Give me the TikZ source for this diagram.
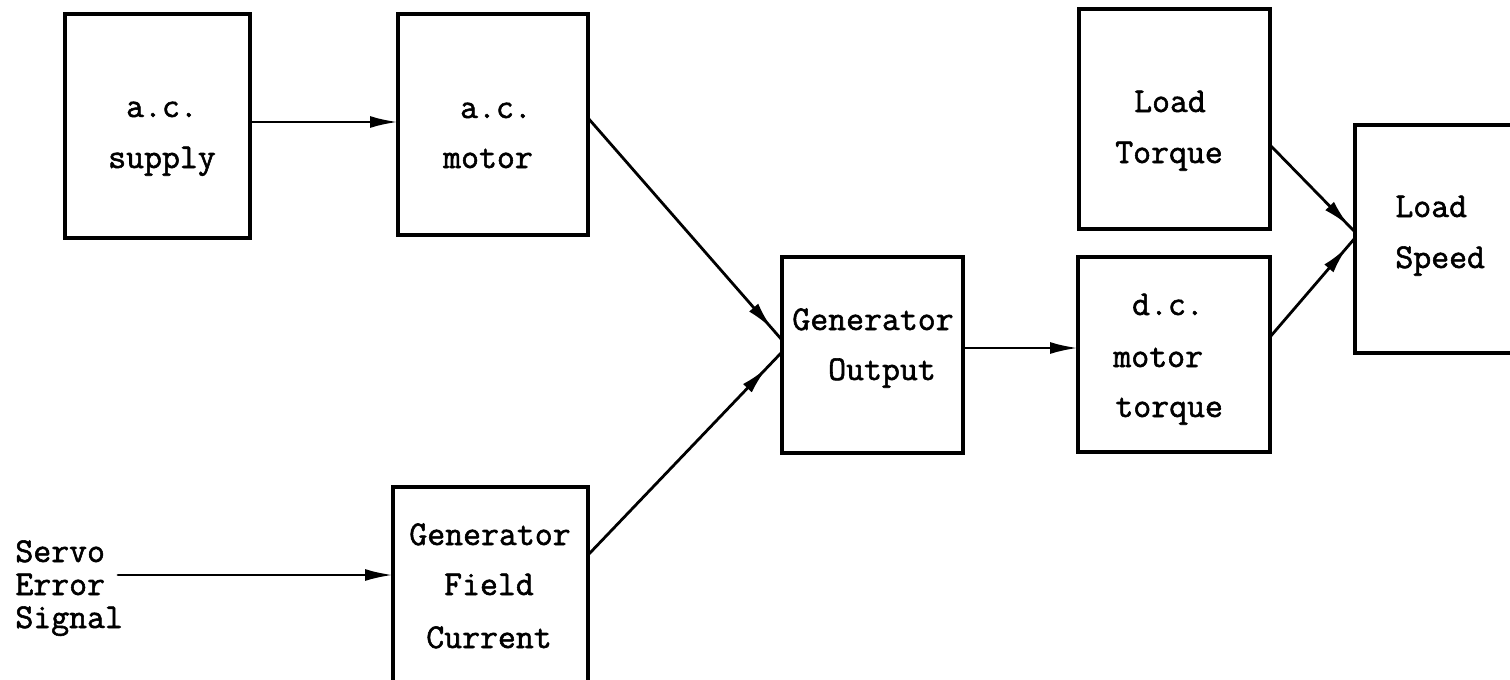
\documentclass[tikz,border=0pt]{standalone}
\usepackage{fontspec}
\usetikzlibrary{arrows.meta,decorations.markings}
% typewriter face, slightly heavier than the stock mono
\newfontfamily\typewr{lmmono12-regular.otf}[FakeBold=1.6]
\tikzset{
  blk/.style={draw, line width=1.6pt, inner sep=0pt, outer sep=0pt},
  lbl/.style={inner sep=0pt, font=\fontsize{17.4pt}{20pt}\typewr, anchor=base},
  lblw/.style={lbl, anchor=base west},
  conn/.style={line width=1.4pt, line cap=round},
  tip/.style={-{Latex[length=14pt,width=6pt]}},
  midtip/.style={postaction={decorate},
    decoration={markings, mark=at position #1 with {\arrow{Latex[length=14pt,width=6pt]}}}},
}
\begin{document}
\begin{tikzpicture}[x=0.5pt,y=-0.5pt]
\useasboundingbox (0,0) rectangle (1510,680);
\clip (0,0) rectangle (1510,680);

% blocks
\node[blk, minimum width=92.5pt, minimum height=112pt]   (sup)  at (157.5,126)  {};
\node[blk, minimum width=95pt,   minimum height=110.5pt] (acm)  at (493,124.5)  {};
\node[blk, minimum width=97.5pt, minimum height=106.5pt] (gfc)  at (490.5,593.5) {};
\node[blk, minimum width=90.5pt, minimum height=98pt]    (gout) at (872.5,355)  {};
\node[blk, minimum width=95.5pt, minimum height=110pt]   (ltq)  at (1174.5,119) {};
\node[blk, minimum width=96pt,   minimum height=97.5pt]  (dcm)  at (1174,354.5) {};
\node[blk, minimum width=92.5pt, minimum height=114pt]   (lsp)  at (1447.5,239) {};

% block texts
\node[lbl]  (supA)  at (162,117)  {a.c.};
\node[lbl]  (supB)  at (162,168)  {supply};
\node[lbl]  (acmA)  at (496,118)  {a.c.};
\node[lbl]  (acmB)  at (488,168)  {motor};
\node[lbl]  (gfcA)  at (490,545)  {Generator};
\node[lbl]  (gfcB)  at (489,595)  {Field};
\node[lbl]  (gfcC)  at (489,648)  {Current};
\node[lbl]  (goutA) at (873,330)  {Generator};
\node[lbl]  (goutB) at (882,380)  {Output};
\node[lbl]  (ltqA)  at (1170,112) {Load};
\node[lbl]  (ltqB)  at (1169,163) {Torque};
\node[lbl]  (dcmA)  at (1168,315) {d.c.};
\node[lblw] (dcmB)  at (1113,367) {motor};
\node[lblw] (dcmC)  at (1115,417) {torque};
\node[lblw] (lspA)  at (1395,217) {Load};
\node[lblw] (lspB)  at (1395,268) {Speed};

% input signal label
\node[lblw] (srvA)  at (15,562) {Servo};
\node[lblw] (srvB)  at (15,595) {Error};
\node[lblw] (srvC)  at (15,628) {Signal};
\coordinate (sig) at (118,575);

% connectors
\draw[conn, tip] (sup.east |- 0,122) -- (acm.west |- 0,122);
\draw[conn, tip] (sig) -- (gfc.west |- sig);
\draw[conn, midtip=-7.5pt] (acm.east |- 0,118) -- (gout.west |- 0,340);
\draw[conn, midtip=-11pt]  (gfc.east |- 0,555) -- (gout.west |- 0,352);
\draw[conn, tip] (gout.east |- 0,348) -- (dcm.west |- 0,348);
\draw[conn, midtip=-4pt]   (ltq.east |- 0,145) -- (lsp.west |- 0,232);
\draw[conn, midtip=-6pt]   (dcm.east |- 0,337) -- (lsp.west |- 0,238);
\end{tikzpicture}
\end{document}
